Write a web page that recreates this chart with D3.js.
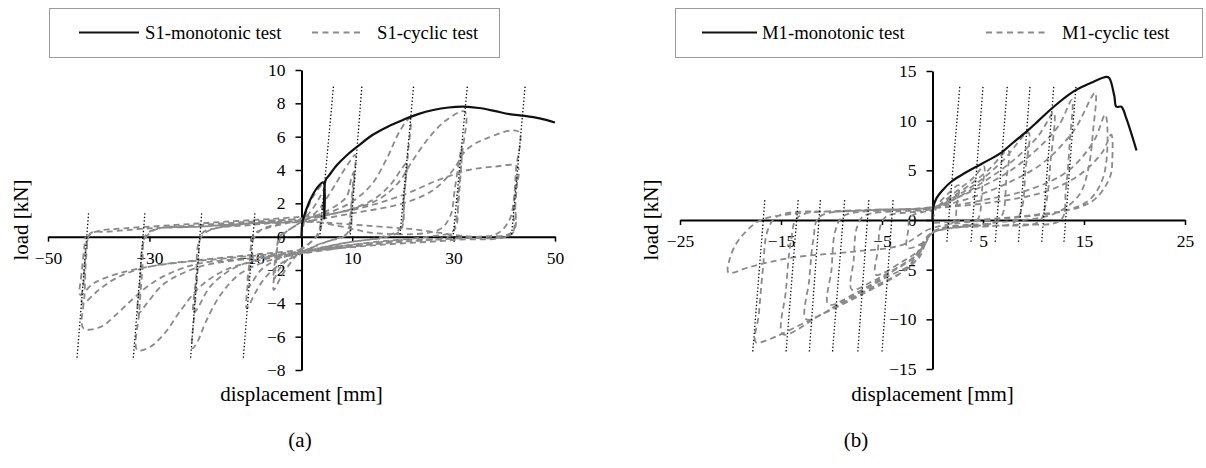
<!DOCTYPE html>
<html>
<head>
<meta charset="utf-8">
<script src="https://cdn.jsdelivr.net/npm/d3@7"></script>
<style>
  html, body { margin: 0; padding: 0; background: #fff; }
  svg { display: block; font-family: "Liberation Serif", "Times New Roman", serif; }
</style>
</head>
<body>
<svg id="chart" width="1206" height="468"></svg>
<script>
// ---------- data: panel (a) S1 ----------
const s1XTicks = [-50, -30, -10, 10, 30, 50];
const s1YTicks = [-8, -6, -4, -2, 0, 2, 4, 6, 8, 10];
const s1Legend = ["S1-monotonic test", "S1-cyclic test"];

const s1Monotonic = [[0,0],[0.2,0.9],[0.8,1.5],[1.7,2.2],[3,2.9],[4.3,3.25],[4.5,1.1],[4.7,3.35],
  [5.5,3.7],[7,4.3],[9,4.9],[11,5.4],[14,6.1],[17,6.6],[20,7.0],[23,7.35],[26,7.6],[29,7.75],
  [32,7.8],[35,7.72],[38,7.55],[41,7.35],[44,7.25],[47,7.1],[50,6.85]];

const s1Cyclic5 = [[0,0],[1,1.5],[2.5,2.5],[4.5,3.2],[4,1.5],[3.4,0.3],[2,-0.3],[0,-0.8],[-2,-1.5],
  [-4,-2.4],[-5.5,-3.2],[-5,-1.5],[-4.5,-0.3],[-3,0.3],[0,0.9],[2,1.6],[3.5,2.3],[4.6,2.9],[4.1,1.2],
  [3.5,0.2],[1.5,-0.4],[0,-0.7],[-2.5,-1.3],[-4.5,-2.0],[-5.5,-2.6],[-5,-1],[-4.3,0],[-2,0.5],[0,0.9]];
const s1Cyclic10 = [[3,1.5],[6,2.8],[8,3.8],[9.5,4.5],[10.6,4.9],[10.1,3],[9.6,1.2],[9,0.2],[6,-0.2],
  [3,-0.5],[0,-1.0],[-4,-1.6],[-7,-2.4],[-9,-3.3],[-10.8,-4.3],[-10.3,-2],[-9.7,-0.3],[-8,0.4],[-4,0.8],
  [0,1.0],[4,1.4],[7,1.9],[8.9,2.4],[9.9,3.6],[10.4,3.9],[9.9,1.8],[9.3,0.2],[5,-0.3],[0,-0.9],[-5,-1.4],
  [-8,-2.0],[-10.5,-3.0],[-10.1,-1.2],[-9.5,0.1],[-7,0.5],[-3,0.8],[0,1.0]];
const s1Cyclic20 = [[5,1.4],[10,2.1],[14,3.2],[17,4.8],[19.5,6.4],[21.4,7.1],[21,5],[20.3,2.5],[19.6,0.4],
  [17,0],[10,-0.3],[5,-0.6],[0,-1.0],[-6,-1.4],[-12,-2.2],[-16,-3.5],[-19,-5.2],[-20.5,-6.3],[-21.5,-6.7],
  [-21.1,-4.5],[-20.4,-1.8],[-19.6,0.2],[-17,0.5],[-10,0.8],[0,1.1],[8,1.5],[14,2.2],[17.5,3.1],[19.6,4.0],
  [20.7,4.4],[20.2,2.5],[19.5,0.5],[16,0],[8,-0.4],[0,-0.9],[-8,-1.3],[-14,-2],[-18,-3],[-20.5,-4.3],
  [-21.3,-4.6],[-20.8,-2.5],[-20.1,-0.2],[-18,0.4],[-10,0.7],[0,1.0]];
const s1Cyclic31 = [[8,1.5],[15,2.2],[19,3.2],[22,4.6],[25.3,6.0],[28.6,7.0],[32.2,7.5],[31.7,5],[30.9,2.5],
  [30.1,0.4],[25,0],[15,-0.3],[5,-0.7],[0,-1.0],[-8,-1.4],[-15,-2],[-20,-3],[-24,-4.5],[-27,-5.8],
  [-29.8,-6.6],[-32.4,-6.8],[-32,-4.5],[-31.4,-2],[-30.7,0.1],[-28,0.5],[-20,0.7],[-10,0.9],[0,1.0],
  [8,0.6],[15,0.2],[27,0.4],[29.3,1.2],[30.3,3.0],[31.6,5.4],[31.2,3],[30.5,1],[29.5,0.1],[20,-0.2],
  [10,-0.5],[0,-0.9],[-10,-1.3],[-20,-1.8],[-27,-2.8],[-30.5,-4],[-32.2,-4.6],[-31.8,-2.5],[-31.1,-0.3],
  [-29,0.4],[-20,0.6],[-10,0.8],[0,0.9]];
const s1Cyclic42 = [[10,1.4],[20,2.0],[26,2.8],[29.9,4.0],[32.5,5.2],[36.5,5.9],[42.8,6.3],[42.3,4],
  [41.8,1.5],[41.5,0.2],[30,-0.1],[20,-0.3],[10,-0.6],[0,-1.0],[-10,-1.3],[-20,-1.6],[-26,-2.2],[-30,-2.9],
  [-33.5,-3.8],[-37,-4.8],[-39.5,-5.4],[-43,-5.5],[-42.8,-3.5],[-42.4,-1],[-41.8,0.1],[-40,0.35],[-35,0.5],
  [-25,0.7],[-15,0.9],[0,1.2],[10,1.6],[20,2.5],[27,3.4],[33,4],[38,4.2],[42.6,4.2],[42.1,2.5],[41.6,0.3],
  [35,0],[20,-0.3],[10,-0.5],[0,-0.8],[-10,-1.1],[-20,-1.4],[-30,-1.8],[-36,-2.4],[-40,-3.2],[-43.2,-4.0],
  [-42.9,-2.5],[-42.4,-0.5],[-41.6,0.2],[-38,0.3],[-30,0.5],[-20,0.6],[-10,0.8],[0,0.9],[20,0.5],[38,0.1],
  [41,1],[42,2.5],[42.6,3.6],[42.2,2],[41.6,0.2],[30,-0.2],[15,-0.5],[0,-0.9],[-15,-1.3],[-28,-1.7],
  [-36,-2.2],[-41,-2.8],[-43.6,-3.5],[-43.3,-2],[-42.6,0]];

// dotted unloading-stiffness lines: x at top / bottom, y of top / bottom
const s1DotPosTop = [6.3, 11.9, 22.1, 32.7, 44.1];
const s1DotPosBot = [3.6, 9.6, 19.4, 29.9, 41.4];
const s1DotPosY = [9.0, 0];
const s1DotNegTop = [-42.0, -30.9, -19.7, -9.2];
const s1DotNegBot = [-44.3, -33.2, -21.9, -11.5];
const s1DotNegY = [1.4, -7.4];

// ---------- data: panel (b) M1 ----------
const m1XTicks = [-25, -15, -5, 5, 15, 25];
const m1YTicks = [-15, -10, -5, 0, 5, 10, 15];
const m1Legend = ["M1-monotonic test", "M1-cyclic test"];

const m1Monotonic = [[0,0],[0.05,1.2],[0.4,2.2],[1,3.0],[1.9,3.9],[3,4.6],[4.4,5.4],[5.5,6.0],[6.7,6.7],
  [8,7.8],[9.3,8.9],[10.5,10.0],[12,11.4],[13.9,12.9],[15,13.5],[15.9,13.9],[17.2,14.4],[17.5,14.3],
  [18.0,12.5],[18.2,11.4],[18.7,11.4],[19.2,10.2],[20.2,7.0]];

const m1CyclicEarly = [[0,0],[0.5,1.5],[1.5,2.6],[2.6,3.5],[2.4,1.5],[2.2,0],[1.5,-0.6],[0,-1.2],
  [-0.8,-2.2],[-2.5,-2.8],[-2.4,-1],[-2.2,0.3],[-1,0.8],[0,1.0],[1,1.8],[2.5,3.0],[4,4.2],[5.1,5.4],
  [4.9,3],[4.6,0.3],[4.0,-0.4],[2,-0.8],[0,-1.3],[-1,-2.8],[-3,-4.2],[-5.6,-5.5],[-5.4,-3],[-5.1,-0.4],
  [-4.5,0.4],[-2,0.8],[0,1.0],[1.5,2],[3.5,3.4],[5.5,5],[7.5,7.0],[7.3,4],[6.9,0.5],[6,-0.3],[3,-0.7],
  [0,-1.3],[-1.2,-3.2],[-3.5,-4.8],[-6,-6.2],[-8,-7.0],[-7.8,-4],[-7.5,-0.8],[-6.8,0.4],[-3,0.9],
  [0,1.1],[2,2.2],[4.5,3.8],[7,6],[9.5,8.8],[9.2,5],[8.8,1],[8,-0.3],[4,-0.6],[0,-1.2],[-1.5,-3.5],
  [-4,-5.2],[-7.5,-7.3],[-10.3,-8.5],[-10,-5],[-9.6,-1],[-8.8,0.4],[-4,1.0],[0,1.2]];
const m1CyclicLate = [[2,2],[5,3.8],[8,6],[10.5,8.5],[12,10.8],[11.7,6],[11.2,1.5],[10.5,-0.2],[6,-0.6],
  [0,-1.3],[-1.5,-4],[-5,-6],[-9,-8.3],[-12.5,-10],[-12.2,-6],[-11.8,-2],[-11.2,0.3],[-6,1],
  [0,1.3],[3,2.5],[7,4.5],[10,6.8],[12.5,9.5],[13.8,12.1],[13.6,8],[13.2,3],[12.7,0],[8,-0.5],[0,-1.3],
  [-2,-4.5],[-6,-6.8],[-11,-9.5],[-14.8,-11.5],[-14.5,-7],[-14,-2],[-13.3,0.3],[-8,0.9],
  [0,1.3],[4,2.3],[8,4],[11,5.8],[14,9],[16.1,12.8],[15.9,9],[15.4,5],[14.5,2.5],[12,0.6],[6,-0.3],
  [0,-1.2],[-2.5,-4.8],[-7,-7.5],[-12,-10],[-16.4,-12.1],[-17.5,-12.3],[-17.2,-9.5],[-16.8,-5],
  [-16.3,-1],[-15.3,0.4],[-8,0.9],
  [0,1.2],[5,2],[10,3.2],[13.5,5],[16,8],[17.1,10.6],[17.3,7],[16.8,4],[15.5,2],[13,0.9],[8,0.2],
  [0,-0.8],[-3,-2.5],[-8,-3.2],[-14,-3.8],[-18,-4.7],[-20.2,-5.3],[-20.1,-4],[-19.5,-2.5],[-18.5,-1.2],
  [-17,0],[-14,0.6],[-7,1],
  [0,1.2],[6,1.8],[11,2.8],[14.5,4.5],[16.8,6.8],[17.7,8.6],[17.8,6],[17.6,4.4],[16.3,2.3],[14.6,1.3],
  [10,0.5],[0,-0.3]];

const m1DotPosTop = [2.7, 5.0, 7.4, 9.65, 12.0, 14.2];
const m1DotPosBot = [1.4, 3.8, 6.2, 8.5, 10.8, 13.0];
const m1DotPosY = [13.4, -2.4];
const m1DotNegTop = [-16.6, -13.3, -11.1, -8.7, -6.3, -3.9];
const m1DotNegBot = [-17.8, -14.5, -12.2, -9.9, -7.4, -5.0];
const m1DotNegY = [2.0, -13.3];

// ---------- drawing ----------
const svg = d3.select("#chart");
const grey = "#8a8a8a";

function drawPanel(p) {
    const x = d3.scaleLinear().domain(p.xDomain).range(p.xRange);
    const y = d3.scaleLinear().domain(p.yDomain).range(p.yRange);

    // axes cross at zero
    const gx = svg.append("g")
        .attr("transform", `translate(0,${y(0)})`)
        .call(d3.axisBottom(x).tickValues(p.xTicks).tickSize(5).tickSizeOuter(0).tickPadding(10));
    const gy = svg.append("g")
        .attr("transform", `translate(${x(0)},0)`)
        .call(d3.axisLeft(y).tickValues(p.yTicks).tickSize(6).tickSizeOuter(0).tickPadding(10));
    [gx, gy].forEach(g => {
        g.attr("font-family", null).attr("font-size", null);
        g.select(".domain").attr("stroke", "#000").attr("stroke-width", 2);
        g.selectAll(".tick line").attr("stroke", "#000").attr("stroke-width", 1.5);
        g.selectAll(".tick text").attr("fill", "#000").style("font-size", "17.5px");
    });

    const line = d3.line()
        .x(d => x(d[0]))
        .y(d => y(d[1]))
        .curve(d3.curveCatmullRom.alpha(0.5));

    // cyclic test
    svg.append("path")
        .datum(p.cyclic)
        .attr("fill", "none")
        .attr("stroke", grey)
        .attr("stroke-width", 1.8)
        .attr("stroke-dasharray", "6,4")
        .attr("d", line);

    // dotted stiffness lines
    const dots = [];
    p.dotPosTop.forEach((v, i) => dots.push([[v, p.dotPosY[0]], [p.dotPosBot[i], p.dotPosY[1]]]));
    p.dotNegTop.forEach((v, i) => dots.push([[v, p.dotNegY[0]], [p.dotNegBot[i], p.dotNegY[1]]]));
    svg.append("g")
        .selectAll("path")
        .data(dots)
        .join("path")
        .attr("fill", "none")
        .attr("stroke", "#000")
        .attr("stroke-width", 1.3)
        .attr("stroke-dasharray", "1.3,2.2")
        .attr("d", d3.line().x(d => x(d[0])).y(d => y(d[1])));

    // monotonic test
    svg.append("path")
        .datum(p.monotonic)
        .attr("fill", "none")
        .attr("stroke", "#111")
        .attr("stroke-width", 2.2)
        .attr("d", line);

    // axis titles
    const midY = (p.yRange[0] + p.yRange[1]) / 2;
    svg.append("text")
        .attr("transform", `translate(${p.yTitleX},${midY}) rotate(-90)`)
        .attr("text-anchor", "middle")
        .attr("dy", "0.35em")
        .style("font-size", "21px")
        .text("load [kN]");
    svg.append("text")
        .attr("x", (p.xRange[0] + p.xRange[1]) / 2)
        .attr("y", 401)
        .attr("text-anchor", "middle")
        .style("font-size", "21px")
        .text("displacement [mm]");
    svg.append("text")
        .attr("x", p.panelX)
        .attr("y", 447)
        .attr("text-anchor", "middle")
        .style("font-size", "21px")
        .text(p.panel);

    // legend
    const lg = svg.append("g");
    lg.append("rect")
        .attr("x", p.legendBox[0] + 0.5).attr("y", p.legendBox[1] + 0.5)
        .attr("width", p.legendBox[2]).attr("height", p.legendBox[3])
        .attr("fill", "#fff").attr("stroke", "#9a9a9a").attr("stroke-width", 1);
    const ly = p.legendBox[1] + p.legendBox[3] / 2;
    lg.append("line")
        .attr("x1", p.legendItems[0][0]).attr("x2", p.legendItems[0][1])
        .attr("y1", ly).attr("y2", ly)
        .attr("stroke", "#111").attr("stroke-width", 2.2);
    lg.append("line")
        .attr("x1", p.legendItems[1][0]).attr("x2", p.legendItems[1][1])
        .attr("y1", ly).attr("y2", ly)
        .attr("stroke", grey).attr("stroke-width", 1.8).attr("stroke-dasharray", "6,4.5");
    p.legendItems.forEach((it, i) => {
        lg.append("text")
            .attr("x", it[2]).attr("y", ly)
            .attr("dy", "0.35em")
            .style("font-size", "18.7px")
            .text(p.legend[i]);
    });
}

drawPanel({
    xDomain: [-50, 50], xRange: [48, 555],
    yDomain: [-8, 10], yRange: [370, 70],
    xTicks: s1XTicks, yTicks: s1YTicks,
    monotonic: s1Monotonic,
    cyclic: [].concat(s1Cyclic5, s1Cyclic10, s1Cyclic20, s1Cyclic31, s1Cyclic42),
    dotPosTop: s1DotPosTop, dotPosBot: s1DotPosBot, dotPosY: s1DotPosY,
    dotNegTop: s1DotNegTop, dotNegBot: s1DotNegBot, dotNegY: s1DotNegY,
    yTitleX: 21, panelX: 300, panel: "(a)",
    legend: s1Legend,
    legendBox: [49, 8, 450, 49],
    legendItems: [[79, 139, 145], [312, 364, 377]]
});

drawPanel({
    xDomain: [-25, 25], xRange: [680, 1185],
    yDomain: [-15, 15], yRange: [369, 71],
    xTicks: m1XTicks, yTicks: m1YTicks,
    monotonic: m1Monotonic,
    cyclic: [].concat(m1CyclicEarly, m1CyclicLate),
    dotPosTop: m1DotPosTop, dotPosBot: m1DotPosBot, dotPosY: m1DotPosY,
    dotNegTop: m1DotNegTop, dotNegBot: m1DotNegBot, dotNegY: m1DotNegY,
    yTitleX: 651, panelX: 856, panel: "(b)",
    legend: m1Legend,
    legendBox: [675, 8, 527, 49],
    legendItems: [[702, 757, 762], [986, 1047, 1062]]
});
</script>
</body>
</html>
